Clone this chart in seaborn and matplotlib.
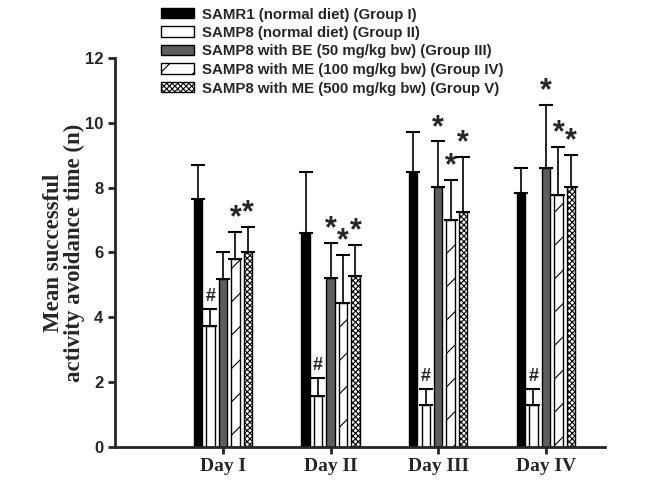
import numpy as np
import pandas as pd
import matplotlib
matplotlib.use("Agg")
import matplotlib.pyplot as plt
import seaborn as sns
from matplotlib.patches import Patch

# data
days = ["Day I", "Day II", "Day III", "Day IV"]
groups = [
    "SAMR1 (normal diet) (Group I)",
    "SAMP8 (normal diet) (Group II)",
    "SAMP8 with BE (50 mg/kg bw) (Group III)",
    "SAMP8 with ME (100 mg/kg bw) (Group IV)",
    "SAMP8 with ME (500 mg/kg bw) (Group V)",
]
means = {
    groups[0]: [7.66, 6.59, 8.50, 7.85],
    groups[1]: [3.73, 1.55, 1.29, 1.29],
    groups[2]: [5.19, 5.22, 8.02, 8.62],
    groups[3]: [5.79, 4.43, 7.00, 7.78],
    groups[4]: [6.00, 5.28, 7.26, 8.02],
}
# upper end of the error bars
tops = {
    groups[0]: [8.69, 8.48, 9.73, 8.60],
    groups[1]: [4.25, 2.11, 1.77, 1.77],
    groups[2]: [6.03, 6.30, 9.43, 10.56],
    groups[3]: [6.64, 5.92, 8.24, 9.27],
    groups[4]: [6.80, 6.23, 8.96, 9.01],
}
# significance marks per group and day
marks = {
    groups[0]: ["", "", "", ""],
    groups[1]: ["#", "#", "#", "#"],
    groups[2]: ["", "*", "*", "*"],
    groups[3]: ["*", "*", "*", "*"],
    groups[4]: ["*", "*", "*", "*"],
}

colors = ["black", "white", "#5e5e5e", "white", "white"]
hatches = [None, None, None, "/", "xxxxxx"]

rows = []
for g in groups:
    for d, v in zip(days, means[g]):
        rows.append({"Day": d, "Group": g, "Mean": v})
df = pd.DataFrame(rows)

sns.set_style("ticks")
plt.rcParams["hatch.linewidth"] = 0.8
plt.rcParams["font.family"] = ["Liberation Sans", "DejaVu Sans"]

fig = plt.figure(figsize=(6.62, 4.86), dpi=100)
ax = fig.add_axes([0.174, 0.081, 0.74, 0.799])

sns.barplot(data=df, x="Day", y="Mean", hue="Group", hue_order=groups,
            palette=colors, width=0.58, gap=0.33, legend=False,
            edgecolor="black", linewidth=1.0, ax=ax)

for i, g in enumerate(groups):
    cont = ax.containers[i]
    xs = []
    for p in cont.patches:
        p.set_facecolor(colors[i])
        p.set_edgecolor("black")
        if hatches[i]:
            p.set_hatch(hatches[i])
        xs.append(p.get_x() + p.get_width() / 2)
    xs = np.array(xs)
    m = np.array(means[g])
    up = np.array(tops[g]) - m
    ax.errorbar(xs, m, yerr=[np.zeros_like(up), up], fmt="none",
                ecolor="black", elinewidth=1.2, capsize=5, capthick=1.5, zorder=3)
    for x, t, mk in zip(xs, tops[g], marks[g]):
        if mk == "*":
            ax.annotate("*", (x, t), xytext=(0, -1), textcoords="offset points",
                        ha="center", va="bottom", fontsize=22, fontweight="bold")
        elif mk == "#":
            ax.annotate("#", (x, t), xytext=(0, 3), textcoords="offset points",
                        ha="center", va="bottom", fontsize=13, fontweight="bold")

ax.set_xlim(-1.0, 3.55)
ax.set_ylim(0, 12)
ax.set_yticks(range(0, 13, 2))
ax.tick_params(axis="both", direction="out", length=5, width=2)
for lab in ax.get_yticklabels():
    lab.set_fontsize(12)
    lab.set_fontweight("bold")
for lab in ax.get_xticklabels():
    lab.set_fontsize(14)
    lab.set_fontweight("bold")
    lab.set_family("Liberation Serif")
ax.set_xlabel("")
ax.set_ylabel("Mean successful\nactivity avoidance time (n)", fontsize=16.5,
              fontweight="bold", family="Liberation Serif", labelpad=0,
              linespacing=1.0)
sns.despine(ax=ax)
for s in ["left", "bottom"]:
    ax.spines[s].set_linewidth(2)

handles = [Patch(facecolor=c, edgecolor="black", hatch=h, linewidth=1.0)
           for c, h in zip(colors, hatches)]
fig.legend(handles, groups, loc="upper left", bbox_to_anchor=(0.232, 1.0),
           frameon=False, handlelength=2.2, handleheight=0.7,
           labelspacing=0.3, handletextpad=0.5, borderaxespad=0.1,
           prop={"weight": "bold", "size": 10.8})

fig.savefig("out.png", dpi=100)
